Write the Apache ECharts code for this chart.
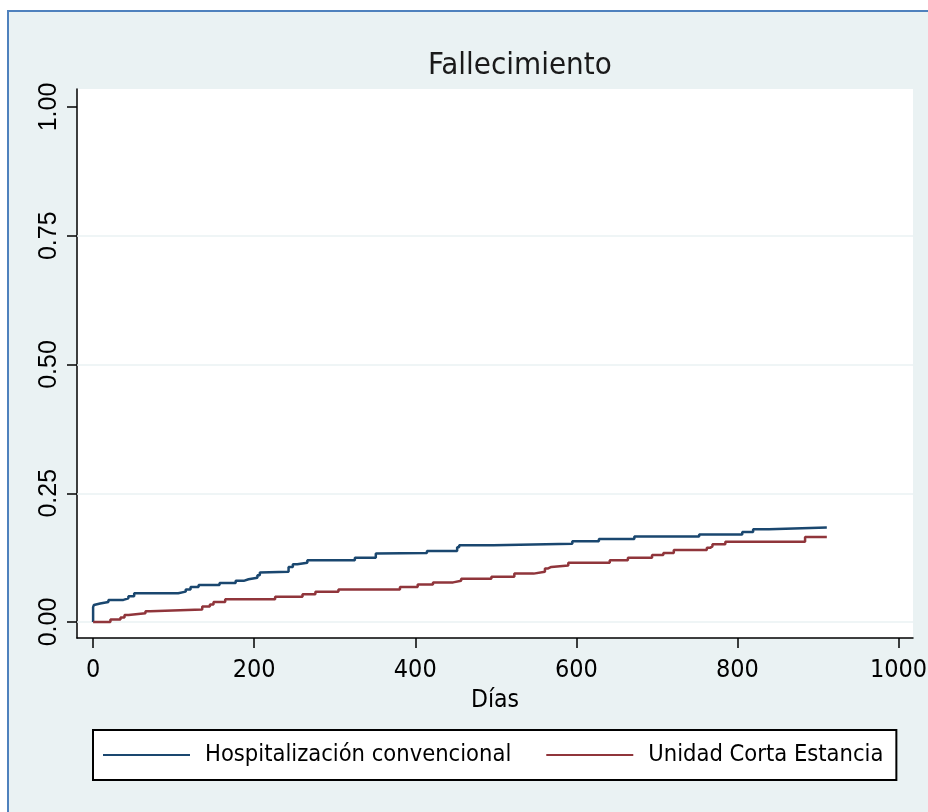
<!DOCTYPE html>
<html>
<head>
<meta charset="utf-8">
<script src="https://cdn.jsdelivr.net/npm/echarts@6/dist/echarts.min.js"></script>
<style>
  html, body { margin: 0; padding: 0; background: #ffffff; overflow: hidden; }
  #frame {
    position: absolute; left: 7px; top: 10px; width: 960px; height: 860px;
    background: #eaf2f3; border-left: 2px solid #4f81bd; border-top: 2px solid #4f81bd;
  }
  #chart { position: absolute; left: 0; top: 0; width: 928px; height: 812px; }
</style>
</head>
<body>
<div id="frame"></div>
<div id="chart"></div>
<script>
// cumulative incidence, step changes (day, value)
const hospDays = [0, 0, 1, 2.5, 8.7, 19, 37.6, 43.8, 51, 105.7, 115, 121, 131, 157, 177, 187, 193, 204, 207, 209,
  242.7, 248, 253.5, 266, 325, 351, 353, 414.5, 452, 454.5, 497, 595, 628, 672, 752.5, 806, 819.5, 839, 911];
const hospVals = [0, 0.029, 0.033, 0.036, 0.039, 0.043, 0.046, 0.050, 0.056, 0.059, 0.063, 0.068, 0.072, 0.076, 0.080, 0.083, 0.086, 0.091, 0.096, 0.0975,
  0.107, 0.112, 0.115, 0.120, 0.125, 0.133, 0.134, 0.138, 0.145, 0.149, 0.152, 0.157, 0.161, 0.166, 0.170, 0.175, 0.180, 0.1835, 0.1835];

const ucesDays = [0, 21.5, 34, 39, 44, 65, 71, 135.5, 145, 149.5, 164, 226, 260, 276, 304.6, 381, 403, 422, 447, 457,
  494.5, 523, 547, 561, 565, 569, 590, 641.5, 664, 694, 708, 721, 762, 766, 769, 785, 884, 911];
const ucesVals = [0, 0.005, 0.009, 0.0136, 0.017, 0.021, 0.0245, 0.030, 0.034, 0.039, 0.044, 0.049, 0.054, 0.059, 0.063, 0.068, 0.073, 0.077, 0.080, 0.084,
  0.088, 0.094, 0.0975, 0.104, 0.107, 0.110, 0.115, 0.120, 0.125, 0.130, 0.134, 0.140, 0.144, 0.147, 0.151, 0.156, 0.165, 0.165];

const seriesNames = ['Hospitalización convencional', 'Unidad Corta Estancia'];
const xTicks = [0, 200, 400, 600, 800, 1000];
const yTicks = [0, 0.25, 0.5, 0.75, 1];
const yGrid = [0, 0.25, 0.5, 0.75];

const narrow = "'DejaVu Sans Condensed', 'Liberation Sans Narrow', sans-serif";
const regular = "'Liberation Sans', Arial, sans-serif";

const pairs = (xs, ys) => xs.map((x, i) => [x, ys[i]]);

const chart = echarts.init(document.getElementById('chart'));

chart.setOption({
  animation: false,
  title: {
    text: 'Fallecimiento',
    left: 428,
    top: 50,
    padding: 0,
    textStyle: { fontFamily: narrow, fontSize: 31, fontWeight: 'normal', color: '#1a1a1a' }
  },
  grid: {
    left: 77, right: 15, top: 89, bottom: 174,
    outerBoundsMode: 'none',
    containLabel: false,
    show: true, backgroundColor: '#ffffff', borderWidth: 0
  },
  legend: {
    data: seriesNames,
    left: 93,
    top: 730,
    padding: [13, 13, 13, 10],
    itemGap: 35,
    itemWidth: 87,
    itemHeight: 2,
    icon: 'rect',
    backgroundColor: '#ffffff',
    borderColor: '#000000',
    borderWidth: 2,
    textStyle: { fontFamily: narrow, fontSize: 23.5, color: '#000000', padding: [0, 0, 0, 10] }
  },
  xAxis: {
    type: 'value',
    min: -20,
    max: 1018,
    name: 'Días',
    nameLocation: 'middle',
    nameGap: 45,
    nameTextStyle: { fontFamily: narrow, fontSize: 24.5, color: '#000000' },
    axisLine: { show: true, onZero: false, lineStyle: { color: '#000000', width: 1.5 } },
    axisTick: { show: true, length: 10, customValues: xTicks, lineStyle: { color: '#000000', width: 1.5 } },
    axisLabel: {
      customValues: xTicks, margin: 20, fontFamily: narrow, fontSize: 25, color: '#000000',
      formatter: v => String(v)
    },
    splitLine: { show: false }
  },
  yAxis: {
    type: 'value',
    min: -0.031,
    max: 1.035,
    axisLine: { show: true, onZero: false, lineStyle: { color: '#000000', width: 1.5 } },
    axisTick: { show: true, length: 10, customValues: yTicks, lineStyle: { color: '#000000', width: 1.5 } },
    axisLabel: {
      customValues: yTicks, rotate: 90, margin: 15,
      fontFamily: regular, fontSize: 25, color: '#000000',
      formatter: v => v.toFixed(2)
    },
    splitLine: { show: false }
  },
  series: [
    {
      name: seriesNames[0],
      type: 'line',
      step: 'end',
      showSymbol: false,
      z: 3,
      data: pairs(hospDays, hospVals),
      itemStyle: { color: '#1a476f' },
      lineStyle: { color: '#1a476f', width: 2.5 },
      markLine: {
        silent: true,
        z: 1,
        symbol: 'none',
        label: { show: false },
        lineStyle: { color: '#eaf2f3', width: 1.5, type: 'solid' },
        data: yGrid.map(v => ({ yAxis: v }))
      }
    },
    {
      name: seriesNames[1],
      type: 'line',
      step: 'end',
      showSymbol: false,
      z: 4,
      data: pairs(ucesDays, ucesVals),
      itemStyle: { color: '#90353b' },
      lineStyle: { color: '#90353b', width: 2.5 }
    }
  ]
});
</script>
</body>
</html>
